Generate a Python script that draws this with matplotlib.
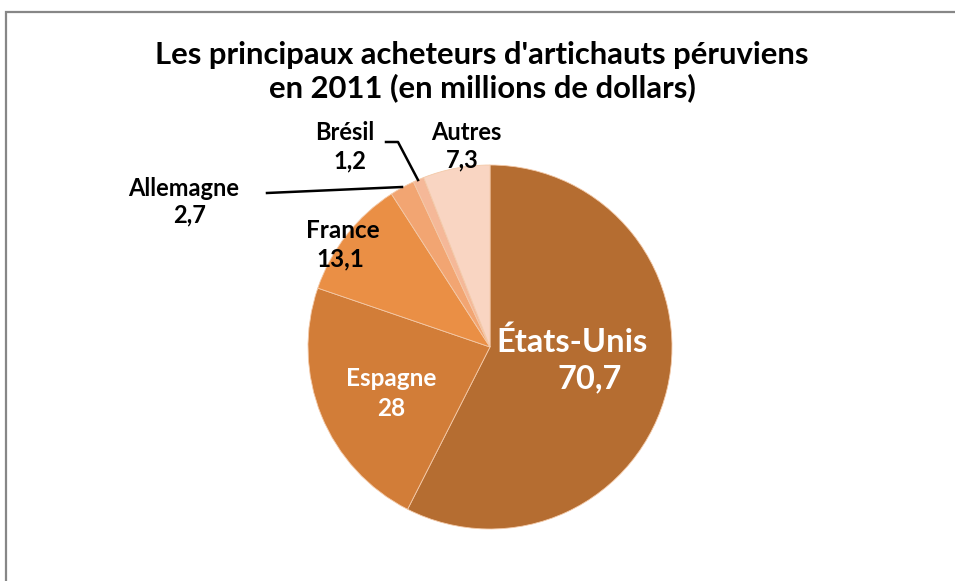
import matplotlib.pyplot as plt
from matplotlib.patches import Rectangle

W, H = 955, 581

# data
pays = ["États-Unis", "Espagne", "France", "Allemagne", "Brésil", "Autres"]
valeurs = [70.7, 28, 13.1, 2.7, 1.2, 7.3]
couleurs = ["#B56D31", "#D27D38", "#EA8F45", "#F2A572", "#F5B898", "#F9D5C2"]

plt.rcParams["font.family"] = ["Lato", "DejaVu Sans"]

fig = plt.figure(figsize=(W / 100, H / 100), dpi=100)
ax = fig.add_axes([0, 0, 1, 1])

def py(y):
    # pixel y (from top) -> data y
    return H - y

ax.pie(valeurs, colors=couleurs, startangle=90, counterclock=False,
       center=(490, py(347)), radius=182,
       wedgeprops=dict(edgecolor="#f3c9a8", linewidth=0.6))

# pie() resets the limits, so set them afterwards
ax.set_xlim(0, W)
ax.set_ylim(0, H)
ax.set_aspect("equal")
ax.axis("off")

# cadre gris (seulement haut et gauche visibles)
ax.add_patch(Rectangle((6, -10), W + 20, py(12) + 10, fill=False,
                       edgecolor="#878787", lw=1.6))

ax.text(482, py(55), "Les principaux acheteurs d'artichauts péruviens",
        ha="center", va="center", fontsize=22.3, fontweight="bold", color="#000000")
ax.text(482, py(88), "en 2011 (en millions de dollars)",
        ha="center", va="center", fontsize=22.3, fontweight="bold", color="#000000")

def fmt(v):
    return f"{v:g}".replace(".", ",")

# positions des étiquettes (pixels)
pos = {
    "États-Unis": (572, 342, 590, 379, 23.5, "white"),
    "Espagne": (391, 379, 391, 409, 17.5, "white"),
    "France": (343, 231, 340, 259, 17.5, "black"),
    "Allemagne": (184, 188, 190, 215, 17, "black"),
    "Brésil": (345, 133, 350, 161, 17, "black"),
    "Autres": (466, 132, 462, 160, 17, "black"),
}
for p, v in zip(pays, valeurs):
    x1, y1, x2, y2, fs, c = pos[p]
    ax.text(x1, py(y1), p, ha="center", va="center", fontsize=fs,
            fontweight="bold", color=c)
    ax.text(x2, py(y2), fmt(v), ha="center", va="center", fontsize=fs,
            fontweight="bold", color=c)

# lignes de rappel
ax.plot([267, 402], [py(193), py(187)], color="black", lw=1.8)
ax.plot([386, 398, 418], [py(142), py(142), py(180)], color="black", lw=1.8)

fig.savefig("out.png", dpi=100)
